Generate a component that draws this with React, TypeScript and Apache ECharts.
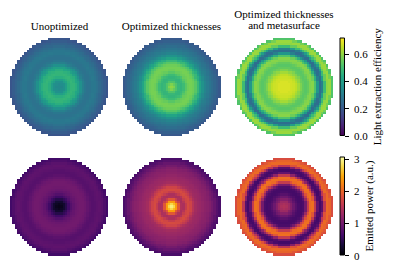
import React, { useEffect, useRef } from "react";
import * as echarts from "echarts";

const FONT = "Liberation Serif";
const VIRIDIS = ["#440154", "#482475", "#414487", "#355f8d", "#2a788e", "#21918c", "#22a884", "#44bf70", "#7ad151", "#bddf26", "#fde725"];
const INFERNO = ["#000004", "#160b39", "#420a68", "#6a176e", "#932667", "#bc3754", "#dd513a", "#f37819", "#fca50a", "#f6d746", "#fcffa4"];

const EFF_MAX = 0.72;
const POWER_MAX = 3.09;
const EFF_TICKS = [0, 0.2, 0.4, 0.6];
const POWER_TICKS = [0, 1, 2, 3];

// Radial profiles, one value per half cell of radius (centre to rim).
const effUnopt = [0.34, 0.34, 0.34, 0.35, 0.36, 0.38, 0.40, 0.43, 0.45, 0.46, 0.47, 0.475, 0.47, 0.46, 0.45, 0.43, 0.41, 0.385, 0.36, 0.335, 0.315, 0.30, 0.285, 0.275, 0.27, 0.27, 0.275, 0.28, 0.285, 0.29, 0.285, 0.28, 0.27, 0.26, 0.25, 0.24, 0.23, 0.22, 0.21, 0.20, 0.19];
const effThick = [0.60, 0.595, 0.58, 0.55, 0.52, 0.50, 0.48, 0.47, 0.47, 0.48, 0.49, 0.51, 0.53, 0.55, 0.56, 0.57, 0.57, 0.57, 0.56, 0.55, 0.53, 0.51, 0.48, 0.45, 0.42, 0.39, 0.365, 0.345, 0.325, 0.31, 0.30, 0.29, 0.28, 0.27, 0.26, 0.25, 0.24, 0.23, 0.22, 0.21, 0.20];
const effMeta = [0.68, 0.68, 0.68, 0.68, 0.68, 0.675, 0.67, 0.67, 0.665, 0.66, 0.65, 0.635, 0.62, 0.60, 0.58, 0.56, 0.545, 0.535, 0.53, 0.535, 0.545, 0.56, 0.58, 0.59, 0.59, 0.56, 0.52, 0.46, 0.38, 0.31, 0.26, 0.26, 0.31, 0.40, 0.49, 0.55, 0.60, 0.61, 0.61, 0.57, 0.52];
const powUnopt = [0.12, 0.13, 0.15, 0.19, 0.25, 0.33, 0.42, 0.51, 0.60, 0.68, 0.75, 0.80, 0.85, 0.89, 0.92, 0.94, 0.96, 0.97, 0.98, 0.98, 0.98, 0.97, 0.95, 0.92, 0.88, 0.85, 0.82, 0.79, 0.77, 0.77, 0.78, 0.80, 0.82, 0.83, 0.84, 0.82, 0.80, 0.76, 0.72, 0.67, 0.62];
const powThick = [2.95, 2.9, 2.8, 2.6, 2.4, 2.15, 1.9, 1.65, 1.45, 1.4, 1.42, 1.5, 1.62, 1.72, 1.78, 1.76, 1.7, 1.6, 1.5, 1.42, 1.36, 1.33, 1.3, 1.28, 1.27, 1.25, 1.23, 1.2, 1.18, 1.16, 1.15, 1.12, 1.1, 1.05, 1.0, 0.95, 0.9, 0.84, 0.78, 0.73, 0.68];
const powMeta = [1.45, 1.44, 1.42, 1.37, 1.3, 1.21, 1.12, 1.02, 0.94, 0.85, 0.78, 0.72, 0.67, 0.64, 0.63, 0.64, 0.68, 0.8, 1.0, 1.3, 1.6, 1.85, 2.05, 2.1, 2.1, 1.9, 1.6, 1.2, 0.88, 0.7, 0.62, 0.66, 0.78, 1.12, 1.55, 1.85, 2.05, 2.05, 2.0, 1.9, 1.8];

const CELLS = 41;
const cellIndex = Array.from({ length: CELLS }, (_, i) => String(i));

function discCells(profile: number[]) {
  const c = (CELLS - 1) / 2;
  const out: number[][] = [];
  for (let i = 0; i < CELLS; i++) {
    for (let j = 0; j < CELLS; j++) {
      const r = Math.hypot(i - c, j - c);
      if (r <= c + 0.4) out.push([i, j, profile[Math.min(profile.length - 1, Math.round(r * 2))]]);
    }
  }
  return out;
}

// Cell drawn through the axes and snapped to whole pixels, so that neighbours neither overlap nor leave seams.
function renderCell(_: any, api: any) {
  const p = api.coord([api.value(0), api.value(1)]);
  const s = api.size([1, 1]);
  const x0 = Math.round(p[0] - s[0] / 2);
  const x1 = Math.round(p[0] + s[0] / 2);
  const y0 = Math.round(p[1] - s[1] / 2);
  const y1 = Math.round(p[1] + s[1] / 2);
  return {
    type: "rect",
    shape: { x: x0, y: y0, width: x1 - x0, height: y1 - y0 },
    style: { fill: api.visual("color") },
  };
}

const DISC_SIZE = 98;
const COLS = [10, 122.5, 235];
const ROWS = [38, 157.5];
const PROFILES = [effUnopt, effThick, effMeta, powUnopt, powThick, powMeta];

function stops(colors: string[]) {
  return colors.map((color, i) => ({ offset: i / (colors.length - 1), color }));
}

export default function App() {
  const ref = useRef<HTMLDivElement>(null);
  useEffect(() => {
    const chart = echarts.init(ref.current!, null, { renderer: "svg" });
    const grid: any[] = [];
    const xAxis: any[] = [];
    const yAxis: any[] = [];
    const series: any[] = [];
    PROFILES.forEach((p, k) => {
      grid.push({ left: COLS[k % 3], top: ROWS[Math.floor(k / 3)], width: DISC_SIZE, height: DISC_SIZE });
      xAxis.push({ type: "category", gridIndex: k, data: cellIndex, show: false });
      yAxis.push({ type: "category", gridIndex: k, data: cellIndex, show: false });
      series.push({
        type: "custom",
        xAxisIndex: k,
        yAxisIndex: k,
        data: discCells(p),
        encode: { x: 0, y: 1 },
        renderItem: renderCell,
        silent: true,
      });
    });
    const bars = [
      { top: 37.5, height: 98.5, max: EFF_MAX, ticks: EFF_TICKS, colors: VIRIDIS, name: "Light extraction efficiency", digits: 1, gap: 26 },
      { top: 156.5, height: 99, max: POWER_MAX, ticks: POWER_TICKS, colors: INFERNO, name: "Emitted power (a.u.)", digits: 0, gap: 16 },
    ];
    bars.forEach((b, n) => {
      const k = 6 + n;
      grid.push({ left: 339.5, top: b.top, width: 5.5, height: b.height });
      xAxis.push({ type: "category", gridIndex: k, data: ["c"], show: false });
      yAxis.push({
        type: "value",
        gridIndex: k,
        position: "right",
        min: 0,
        max: b.max,
        name: b.name,
        nameLocation: "middle",
        nameRotate: 90,
        nameGap: b.gap,
        nameTextStyle: { fontFamily: FONT, fontSize: 11, color: "#000" },
        splitLine: { show: false },
        axisLine: { show: false },
        axisTick: { show: true, length: 4, customValues: b.ticks, lineStyle: { color: "#000", width: 1 } },
        axisLabel: {
          show: true,
          customValues: b.ticks,
          margin: 9,
          fontFamily: FONT,
          fontSize: 11,
          color: "#000",
          formatter: (v: number) => v.toFixed(b.digits),
        },
      });
      series.push({
        type: "bar",
        xAxisIndex: k,
        yAxisIndex: k,
        data: [b.max],
        barWidth: "100%",
        silent: true,
        itemStyle: {
          color: { type: "linear", x: 0, y: 1, x2: 0, y2: 0, colorStops: stops(b.colors) },
          borderColor: "#000",
          borderWidth: 1,
        },
      });
    });
    const titleStyle = { fontFamily: FONT, fontSize: 11, fontWeight: "normal", color: "#000", lineHeight: 11.5 };
    chart.setOption({
      animation: false,
      backgroundColor: "#fff",
      title: [
        { text: "Unoptimized", left: 59.5, top: 20, textAlign: "center", padding: 0, textStyle: titleStyle },
        { text: "Optimized thicknesses", left: 171.5, top: 20, textAlign: "center", padding: 0, textStyle: titleStyle },
        { text: "Optimized thicknesses\nand metasurface", left: 284, top: 8, textAlign: "center", padding: 0, textStyle: titleStyle },
      ],
      grid,
      xAxis,
      yAxis,
      visualMap: [
        { show: false, type: "continuous", seriesIndex: [0, 1, 2], min: 0, max: EFF_MAX, dimension: 2, inRange: { color: VIRIDIS } },
        { show: false, type: "continuous", seriesIndex: [3, 4, 5], min: 0, max: POWER_MAX, dimension: 2, inRange: { color: INFERNO } },
      ],
      series,
    });
    return () => chart.dispose();
  }, []);
  return <div ref={ref} style={{ position: "fixed", left: 0, top: 0, width: 394, height: 272 }} />;
}
